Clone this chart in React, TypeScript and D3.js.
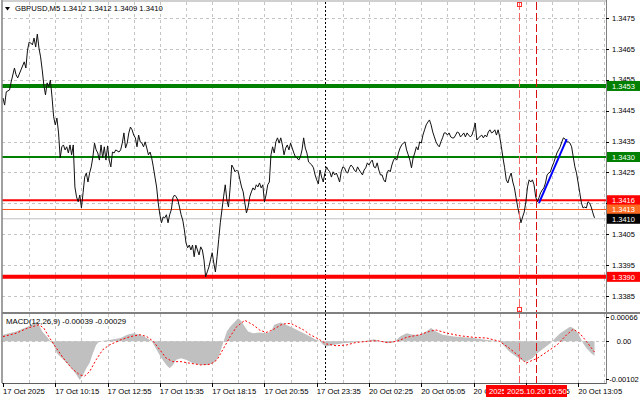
import React from "react";
import * as d3 from "d3";

// ---- DATA ----
const symbolTitle = "GBPUSD,M5";
const ohlc = ["1.3412", "1.3412", "1.3409", "1.3410"];

// [bar index (M5), close price]
const priceSeries: [number, number][] = [
[0,1.34491],[1,1.34468],[2,1.34511],[4,1.34517],[5,1.34543],[7,1.34588],[8,1.34566],[9,1.34556],[11,1.34582],[13,1.34608],[14,1.34588],[15,1.34646],[16,1.34672],[17,1.34669],[18,1.34663],[19,1.34685],[20,1.34656],[21,1.34698],[22,1.34653],[23,1.34624],[24,1.34582],[25,1.34533],[26,1.34501],[27,1.34540],[28,1.34527],[29,1.34549],[30,1.34494],[31,1.34430],[32,1.34404],[33,1.34426],[34,1.34378],[35,1.34297],[36,1.34333],[37,1.34339],[38,1.34323],[39,1.34333],[40,1.34313],[41,1.34339],[42,1.34307],[43,1.34339],[44,1.34203],[45,1.34171],[46,1.34155],[47,1.34177],[48,1.34135],[49,1.34184],[50,1.34235],[51,1.34248],[52,1.34219],[53,1.34248],[54,1.34268],[55,1.34300],[56,1.34345],[57,1.34323],[58,1.34313],[59,1.34290],[60,1.34339],[61,1.34297],[62,1.34333],[63,1.34290],[64,1.34336],[65,1.34290],[66,1.34268],[67,1.34316],[68,1.34313],[69,1.34323],[71,1.34316],[72,1.34323],[73,1.34345],[74,1.34378],[75,1.34329],[76,1.34345],[77,1.34378],[78,1.34397],[79,1.34388],[80,1.34371],[81,1.34362],[82,1.34333],[83,1.34371],[84,1.34349],[85,1.34345],[86,1.34333],[87,1.34349],[88,1.34329],[89,1.34307],[90,1.34316],[91,1.34297],[92,1.34268],[93,1.34235],[94,1.34203],[95,1.34151],[96,1.34113],[97,1.34087],[98,1.34106],[99,1.34103],[100,1.34113],[101,1.34087],[102,1.34113],[103,1.34129],[104,1.34168],[105,1.34177],[106,1.34171],[107,1.34161],[108,1.34138],[109,1.34113],[110,1.34096],[111,1.34064],[112,1.34022],[113,1.34006],[114,1.34015],[115,1.33999],[116,1.34015],[117,1.33977],[118,1.34015],[119,1.33999],[120,1.33983],[121,1.34009],[122,1.33999],[123,1.33967],[124,1.33912],[125,1.33928],[126,1.33944],[127,1.33967],[128,1.33990],[129,1.33957],[130,1.33928],[131,1.33977],[132,1.34032],[133,1.34087],[134,1.34129],[135,1.34171],[136,1.34210],[137,1.34161],[138,1.34138],[139,1.34200],[140,1.34274],[141,1.34265],[142,1.34252],[143,1.34258],[144,1.34252],[145,1.34226],[146,1.34203],[147,1.34187],[148,1.34151],[149,1.34119],[150,1.34138],[151,1.34171],[152,1.34187],[153,1.34200],[154,1.34193],[155,1.34210],[156,1.34203],[157,1.34216],[158,1.34200],[159,1.34210],[160,1.34155],[161,1.34177],[162,1.34210],[163,1.34219],[164,1.34307],[165,1.34333],[166,1.34313],[167,1.34349],[168,1.34362],[169,1.34345],[170,1.34362],[171,1.34339],[172,1.34307],[173,1.34329],[174,1.34339],[175,1.34323],[176,1.34345],[177,1.34329],[178,1.34313],[179,1.34300],[180,1.34297],[181,1.34290],[182,1.34300],[183,1.34323],[184,1.34362],[185,1.34329],[186,1.34313],[187,1.34284],[189,1.34274],[190,1.34265],[191,1.34242],[192,1.34226],[193,1.34213],[194,1.34258],[195,1.34235],[196,1.34219],[197,1.34248],[198,1.34268],[199,1.34258],[200,1.34252],[201,1.34235],[202,1.34252],[203,1.34242],[204,1.34248],[205,1.34235],[206,1.34219],[207,1.34252],[208,1.34268],[209,1.34265],[210,1.34252],[211,1.34248],[212,1.34265],[213,1.34274],[214,1.34268],[215,1.34258],[216,1.34252],[217,1.34268],[218,1.34258],[220,1.34242],[221,1.34258],[222,1.34265],[223,1.34281],[224,1.34274],[225,1.34284],[226,1.34290],[227,1.34268],[228,1.34265],[229,1.34281],[230,1.34258],[231,1.34242],[232,1.34242],[233,1.34226],[234,1.34219],[235,1.34248],[236,1.34258],[237,1.34252],[238,1.34274],[239,1.34290],[240,1.34297],[241,1.34290],[242,1.34313],[243,1.34329],[244,1.34339],[245,1.34345],[246,1.34349],[247,1.34323],[248,1.34307],[249,1.34290],[250,1.34265],[251,1.34297],[252,1.34313],[253,1.34333],[254,1.34323],[255,1.34349],[256,1.34345],[257,1.34371],[258,1.34388],[259,1.34404],[260,1.34413],[261,1.34420],[262,1.34404],[263,1.34381],[264,1.34365],[265,1.34349],[266,1.34339],[267,1.34333],[268,1.34349],[269,1.34362],[270,1.34378],[271,1.34378],[272,1.34371],[273,1.34378],[274,1.34365],[275,1.34362],[276,1.34362],[277,1.34371],[278,1.34381],[279,1.34378],[280,1.34365],[281,1.34371],[282,1.34378],[283,1.34365],[284,1.34378],[285,1.34371],[286,1.34365],[287,1.34371],[288,1.34388],[289,1.34410],[290,1.34355],[291,1.34362],[293,1.34371],[294,1.34362],[295,1.34371],[296,1.34365],[297,1.34381],[298,1.34388],[299,1.34378],[300,1.34381],[301,1.34388],[302,1.34371],[303,1.34388],[304,1.34365],[305,1.34333],[306,1.34297],[307,1.34265],[308,1.34226],[309,1.34216],[310,1.34235],[311,1.34248],[312,1.34219],[313,1.34200],[314,1.34168],[315,1.34138],[316,1.34113],[317,1.34087],[318,1.34106],[319,1.34122],[320,1.34155],[321,1.34203],[322,1.34226],[323,1.34219],[324,1.34226],[325,1.34210],[326,1.34171],[327,1.34155],[328,1.34168],[329,1.34184],[330,1.34193],[331,1.34200],[332,1.34216],[333,1.34242],[334,1.34248],[335,1.34252],[336,1.34268],[337,1.34281],[338,1.34297],[339,1.34313],[340,1.34323],[341,1.34333],[342,1.34349],[343,1.34362],[344,1.34358],[345,1.34349],[346,1.34349],[347,1.34345],[348,1.34333],[349,1.34300],[350,1.34268],[351,1.34248],[352,1.34216],[353,1.34184],[354,1.34151],[355,1.34135],[356,1.34138],[357,1.34135],[358,1.34155],[359,1.34151],[360,1.34138],[361,1.34119],[362,1.34103]
];

// MACD main (histogram) samples
const macdBars = [0,8,15,19,21,24,27,29,31,33,36,39,42,45,47,49,51,53,55,57,59,65,72,76,80,84,88,91,94,97,100,102,104,106,109,112,116,121,125,129,132,134,135,137,139,141,144,146,148,150,153,157,161,164,166,170,173,176,180,184,188,191,194,196,198,202,208,214,221,227,231,235,239,243,247,251,255,259,262,265,269,276,282,288,296,304,307,310,314,317,320,324,327,331,335,338,341,344,347,349,352,355,357,360,362];
const macdMain = [0.00018,0.00027,0.00040,0.00049,0.00054,0.00027,0.00012,0,-0.00010,-0.00032,-0.00046,-0.00059,-0.00073,-0.00091,-0.00105,-0.00091,-0.00073,-0.00059,-0.00032,-0.00010,0,0.00004,0.00009,0.00018,0.00022,0.00018,0.00009,0,-0.00023,-0.00046,-0.00064,-0.00073,-0.00064,-0.00050,-0.00046,-0.00050,-0.00059,-0.00064,-0.00064,-0.00059,-0.00041,-0.00014,0,0.00027,0.00040,0.00049,0.00063,0.00054,0.00040,0.00027,0.00022,0.00024,0.00022,0.00027,0.00045,0.00051,0.00045,0.00040,0.00031,0.00022,0.00013,0.00006,0,-0.00010,-0.00014,-0.00010,-0.00005,-0.00003,0,0.00006,0,-0.00005,-0.00003,0.00013,0.00022,0.00018,0.00018,0.00027,0.00036,0.00027,0.00018,0.00013,0.00011,0.00009,0.00004,0,-0.00014,-0.00028,-0.00041,-0.00050,-0.00055,-0.00046,-0.00032,-0.00019,-0.00005,0.00009,0.00022,0.00031,0.00040,0.00036,0.00022,-0.00005,-0.00018,-0.00032,-0.00039];

// MACD signal line samples
const signalBars = [0,8,15,22,25,28,32,37,42,47,50,53,57,61,65,72,78,84,88,92,96,100,104,109,114,121,127,131,135,139,143,148,153,157,161,165,171,176,180,184,188,192,194,198,204,210,216,223,229,235,241,247,255,261,265,272,280,288,296,304,310,316,320,327,333,339,345,349,353,357,362];
const signalValues = [0.00013,0.00022,0.00036,0.00045,0.00036,0.00013,-0.00014,-0.00046,-0.00073,-0.00091,-0.00094,-0.00082,-0.00050,-0.00023,-0.00010,0.00004,0.00013,0.00018,0.00013,0,-0.00023,-0.00046,-0.00055,-0.00055,-0.00059,-0.00064,-0.00062,-0.00050,-0.00019,0.00013,0.00040,0.00057,0.00045,0.00031,0.00024,0.00031,0.00047,0.00049,0.00040,0.00031,0.00018,0.00009,0.00004,-0.00007,-0.00012,-0.00010,-0.00003,0,0.00002,-0.00003,0,0.00011,0.00018,0.00027,0.00031,0.00022,0.00015,0.00011,0.00009,0,-0.00019,-0.00041,-0.00059,-0.00046,-0.00028,-0.00010,0.00018,0.00033,0.00022,0,-0.00029];

const macdTitle = "MACD(12,26,9)";
const macdCurrent = ["-0.00039", "-0.00029"];
const macdAxisValues = [0.00066, 0, -0.00102];
const macdAxisLabels = ["0.00066", "0.00", "-0.00102"];

const priceTicks = [1.3475, 1.3465, 1.3455, 1.3445, 1.3435, 1.3425, 1.3415, 1.3405, 1.3395, 1.3385];

const timeLabelBars = [0, 32, 64, 96, 128, 160, 192, 224, 256, 288, 320, 352];
const timeLabels = ["17 Oct 2025", "17 Oct 10:15", "17 Oct 12:55", "17 Oct 15:35", "17 Oct 18:15", "17 Oct 20:55", "17 Oct 23:35", "20 Oct 02:25", "20 Oct 05:05", "20 Oct 07:45", "20 Oct 10:25", "20 Oct 13:05"];

const levelPrices = [1.3453, 1.3430, 1.3416, 1.3413, 1.3410, 1.33912];
const levelLabels = ["1.3453", "1.3430", "1.3416", "1.3413", "1.3410", "1.3390"];

const daySeparatorBar = 197;
const markerBars = [316, 326];
const markerTimes = ["2025.10.20 10:00", "2025.10.20 10:50"];

const trendStart: [number, number] = [328, 1.34151];
const trendEnd: [number, number] = [345, 1.34358];

// ---- CHART ----
const W = 640, H = 401;
const FONT = "'Liberation Sans', Arial, sans-serif";

export default function App() {
  const left = 2, right = 606;
  const mainTop = 2, mainBottom = 312;
  const macdTop = 314, macdBottom = 383;

  const x = d3.scaleLinear().domain([0, 362]).range([3, 594.5]);
  const yP = d3.scaleLinear().domain([1.3475, 1.3385]).range([18, 296]);
  const yM = d3.scaleLinear().domain([0.00077, -0.00113]).range([313, 383]);

  const priceLine = d3.line<[number, number]>().x(d => x(d[0])).y(d => yP(d[1]));
  const macdPts = macdBars.map((b, i) => [b, macdMain[i]] as [number, number]);
  const macdArea = d3.area<[number, number]>().x(d => x(d[0])).y0(yM(0)).y1(d => yM(d[1]));
  const sigPts = signalBars.map((b, i) => [b, signalValues[i]] as [number, number]);
  const sigLine = d3.line<[number, number]>().x(d => x(d[0])).y(d => yM(d[1]));

  const gridBars = d3.range(16, 370, 16);

  const levelStyles = [
    { stroke: "#008000", w: 4, box: "#008000" },
    { stroke: "#008000", w: 2, box: "#008000" },
    { stroke: "#ff0000", w: 2, box: "#ff0000" },
    { stroke: "#ff5a1e", w: 1, box: "#ff6a22" },
    { stroke: "#c0c0c0", w: 1, box: "#000000" },
    { stroke: "#ff0000", w: 4, box: "#ff0000" },
  ];

  return (
    <svg width={W} height={H} style={{ position: "absolute", left: 0, top: 0, background: "#fff" }} fontFamily={FONT}>
      <defs>
        <clipPath id="mainClip"><rect x={left} y={mainTop} width={right - left} height={mainBottom - mainTop} /></clipPath>
        <clipPath id="macdClip"><rect x={left} y={macdTop} width={right - left} height={macdBottom - macdTop} /></clipPath>
      </defs>
      <rect x={0} y={0} width={W} height={H} fill="#fff" />

      {/* horizontal grid main */}
      {priceTicks.map((p, i) => (
        <line key={"hg" + i} x1={left} x2={right} y1={Math.round(yP(p)) + 0.5} y2={Math.round(yP(p)) + 0.5} stroke="#c4c4c4" strokeDasharray="3,3" />
      ))}
      {/* vertical grid */}
      {gridBars.map((b, i) => (
        <g key={"vg" + i}>
          <line x1={Math.round(x(b)) + 0.5} x2={Math.round(x(b)) + 0.5} y1={mainTop} y2={mainBottom} stroke="#c4c4c4" strokeDasharray="3,3" />
          <line x1={Math.round(x(b)) + 0.5} x2={Math.round(x(b)) + 0.5} y1={macdTop} y2={macdBottom} stroke="#c4c4c4" strokeDasharray="3,3" />
        </g>
      ))}
      {/* macd zero grid */}
      <line x1={left} x2={right} y1={Math.round(yM(0)) + 0.5} y2={Math.round(yM(0)) + 0.5} stroke="#c4c4c4" strokeDasharray="3,3" />

      {/* day separator */}
      <line x1={Math.round(x(daySeparatorBar)) + 0.5} x2={Math.round(x(daySeparatorBar)) + 0.5} y1={mainTop} y2={macdBottom} stroke="#000" strokeDasharray="2,2" />

      {/* levels */}
      <g clipPath="url(#mainClip)">
        {levelPrices.map((p, i) => (
          <line key={"lv" + i} x1={left} x2={right} y1={yP(p)} y2={yP(p)} stroke={levelStyles[i].stroke} strokeWidth={levelStyles[i].w} />
        ))}
      </g>

      {/* price line */}
      <g clipPath="url(#mainClip)">
        <path d={priceLine(priceSeries) || ""} fill="none" stroke="#111" strokeWidth={1} />
        <line x1={x(trendStart[0])} y1={yP(trendStart[1])} x2={x(trendEnd[0])} y2={yP(trendEnd[1])} stroke="#0000ff" strokeWidth={2} />
      </g>

      {/* macd */}
      <g clipPath="url(#macdClip)">
        <path d={macdArea(macdPts) || ""} fill="#c0c0c0" stroke="none" />
        <path d={sigLine(sigPts) || ""} fill="none" stroke="#ff0000" strokeWidth={1} strokeDasharray="2,2" />
      </g>

      {/* vertical markers */}
      {markerBars.map((b, i) => (
        <line key={"mk" + i} x1={Math.round(x(b)) + 0.5} x2={Math.round(x(b)) + 0.5} y1={mainTop} y2={macdBottom}
          stroke={i === 0 ? "#f06868" : "#d81010"} strokeDasharray="8,3" />
      ))}
      <rect x={Math.round(x(markerBars[0])) - 1.5} y={2.5} width={4} height={4} fill="none" stroke="#ff3030" />
      <rect x={Math.round(x(markerBars[0])) - 1.5} y={307.5} width={4} height={4} fill="none" stroke="#ff3030" />

      {/* frame */}
      <line x1={left} x2={left} y1={0} y2={macdBottom} stroke="#808080" strokeWidth={1.5} />
      <line x1={left} x2={right} y1={1} y2={1} stroke="#a0a0a0" />
      <line x1={right + 0.5} x2={right + 0.5} y1={0} y2={macdBottom + 1} stroke="#808080" />
      <rect x={left} y={mainBottom} width={W - left} height={2} fill="#808080" />
      <line x1={left} x2={right} y1={macdBottom + 0.5} y2={macdBottom + 0.5} stroke="#606060" />

      {/* title */}
      <path d="M5,7 L10,7 L7.5,10.5 Z" fill="#000" />
      <text x={15} y={11} fontSize={7.7} fill="#000">{symbolTitle + "  " + ohlc.join(" ")}</text>

      {/* price axis */}
      {priceTicks.map((p, i) => (
        <g key={"pt" + i}>
          <line x1={right} x2={right + 3} y1={Math.round(yP(p)) + 0.5} y2={Math.round(yP(p)) + 0.5} stroke="#000" />
          <text x={612} y={yP(p) + 2.7} fontSize={7.5} fill="#000">{p.toFixed(4)}</text>
        </g>
      ))}
      {levelPrices.map((p, i) => (
        <g key={"lb" + i}>
          <rect x={right + 1} y={yP(p) - 5} width={W - right - 1} height={10} fill={levelStyles[i].box} />
          <text x={612} y={yP(p) + 2.8} fontSize={7.5} fill="#fff">{levelLabels[i]}</text>
        </g>
      ))}

      {/* macd labels */}
      <text x={6} y={324} fontSize={7.8} fill="#000">{macdTitle + " " + macdCurrent.join(" ")}</text>
      {macdAxisValues.map((v, i) => (
        <g key={"ma" + i}>
          <line x1={right} x2={right + 3} y1={Math.round(yM(v)) + 0.5} y2={Math.round(yM(v)) + 0.5} stroke="#000" />
          <text x={624} y={yM(v) + 2.7} fontSize={7.5} textAnchor="middle" fill="#000">{macdAxisLabels[i]}</text>
        </g>
      ))}

      {/* time axis */}
      {timeLabelBars.map((b, i) => (
        <g key={"tl" + i}>
          <line x1={Math.round(x(b)) + 0.5} x2={Math.round(x(b)) + 0.5} y1={macdBottom} y2={macdBottom + 4} stroke="#000" />
          <text x={x(b)} y={393.5} fontSize={7.7} fill="#000">{timeLabels[i]}</text>
        </g>
      ))}
      {markerBars.map((b, i) => {
        const bx = i === 0 ? 486 : 504;
        return (
          <g key={"mt" + i}>
            <rect x={bx} y={385} width={63} height={12} fill="#ff0000" />
            <text x={bx + 3} y={393.5} fontSize={7.7} fill="#fff">{markerTimes[i]}</text>
          </g>
        );
      })}
    </svg>
  );
}
